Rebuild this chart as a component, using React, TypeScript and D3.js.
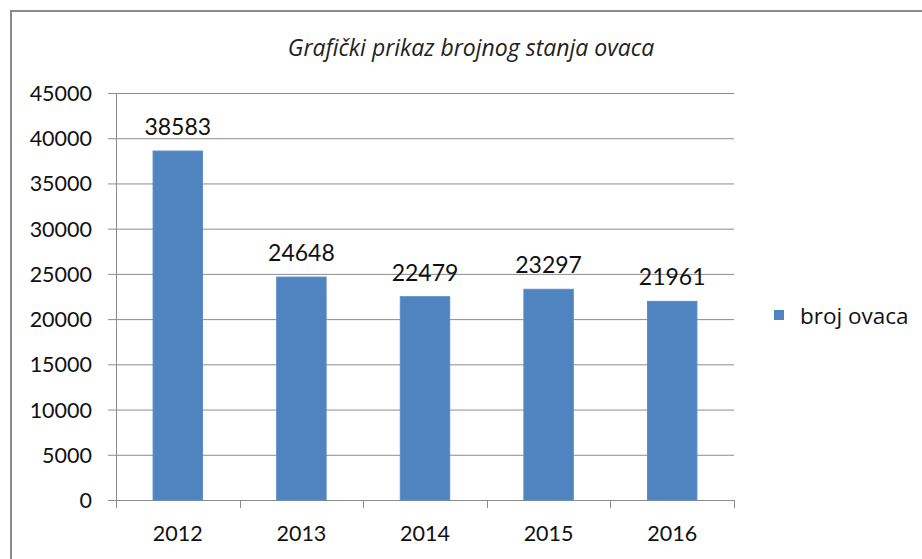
import React, { useEffect, useRef } from "react";
import * as d3 from "d3";

const years = ["2012", "2013", "2014", "2015", "2016"];
const sheepCounts = [38583, 24648, 22479, 23297, 21961];
const yTicks = [0, 5000, 10000, 15000, 20000, 25000, 30000, 35000, 40000, 45000];
const seriesName = "broj ovaca";
const title = "Grafički prikaz brojnog stanja ovaca";

const W = 922;
const H = 559;
const font = "Lato, 'Open Sans', sans-serif";
const textFont = "'Open Sans', Lato, sans-serif";

export default function App() {
  const svgRef = useRef<SVGSVGElement>(null);

  useEffect(() => {
    const svg = d3.select(svgRef.current);
    svg.selectAll("*").remove();

    const left = 116, right = 734, top = 93, bottom = 500;

    const x = d3.scaleBand().domain(years).range([left, right]).paddingInner(0.6).paddingOuter(0.3);
    const xOuter = d3.scaleBand().domain(years).range([left, right]);
    const y = d3.scaleLinear().domain([0, 45000]).range([bottom, top]);

    // chart frame
    svg.append("rect")
      .attr("x", 11).attr("y", 11)
      .attr("width", W + 20).attr("height", H + 20)
      .attr("fill", "white").attr("stroke", "#8a8a8a").attr("stroke-width", 2);

    svg.append("text")
      .attr("x", 471).attr("y", 47)
      .attr("text-anchor", "middle").attr("dominant-baseline", "central")
      .style("font-family", textFont).style("font-style", "italic").style("font-size", "23px")
      .attr("fill", "#222")
      .text(title);

    // gridlines + y ticks
    svg.append("g").selectAll("line").data(yTicks).enter().append("line")
      .attr("x1", left - 8).attr("x2", right)
      .attr("y1", (d) => y(d) + 0.5).attr("y2", (d) => y(d) + 0.5)
      .attr("stroke", "#8c8c8c").attr("stroke-width", 1);

    svg.append("g").selectAll("text").data(yTicks).enter().append("text")
      .attr("x", 92).attr("y", (d) => y(d))
      .attr("text-anchor", "end").attr("dominant-baseline", "central")
      .style("font-family", font).style("font-size", "21.5px").attr("fill", "#111")
      .text((d) => String(d));

    // y axis line
    svg.append("line")
      .attr("x1", left + 0.5).attr("x2", left + 0.5).attr("y1", top).attr("y2", bottom + 8)
      .attr("stroke", "#8c8c8c");

    // x ticks
    const xTickPos = years.map((d) => xOuter(d)!).concat([right]);
    svg.append("g").selectAll("line").data(xTickPos).enter().append("line")
      .attr("x1", (d) => Math.round(d) + 0.5).attr("x2", (d) => Math.round(d) + 0.5)
      .attr("y1", bottom).attr("y2", bottom + 8)
      .attr("stroke", "#8c8c8c");

    svg.append("g").selectAll("text").data(years).enter().append("text")
      .attr("x", (d) => xOuter(d)! + xOuter.bandwidth() / 2).attr("y", 533)
      .attr("text-anchor", "middle").attr("dominant-baseline", "central")
      .style("font-family", font).style("font-size", "21.5px").attr("fill", "#111")
      .text((d) => d);

    // bars
    svg.append("g").selectAll("rect").data(sheepCounts).enter().append("rect")
      .attr("x", (_, i) => x(years[i])!).attr("width", x.bandwidth())
      .attr("y", (d) => y(d)).attr("height", (d) => y(0) - y(d))
      .attr("fill", "#5084c0").attr("stroke", "#5b8cc7").attr("stroke-width", 1);

    // data labels
    svg.append("g").selectAll("text").data(sheepCounts).enter().append("text")
      .attr("x", (_, i) => x(years[i])! + x.bandwidth() / 2).attr("y", (d) => y(d) - 25)
      .attr("text-anchor", "middle").attr("dominant-baseline", "central")
      .style("font-family", font).style("font-size", "23px").attr("fill", "#111")
      .text((d) => String(d));

    // legend
    svg.append("rect").attr("x", 774).attr("y", 310).attr("width", 10).attr("height", 10)
      .attr("fill", "#5084c0");
    svg.append("text").attr("x", 800).attr("y", 315)
      .attr("dominant-baseline", "central")
      .style("font-family", textFont).style("font-size", "22.5px").attr("fill", "#111")
      .text(seriesName);
  }, []);

  return (
    <svg ref={svgRef} width={W} height={H}
      style={{ position: "absolute", left: 0, top: 0, background: "white" }} />
  );
}
